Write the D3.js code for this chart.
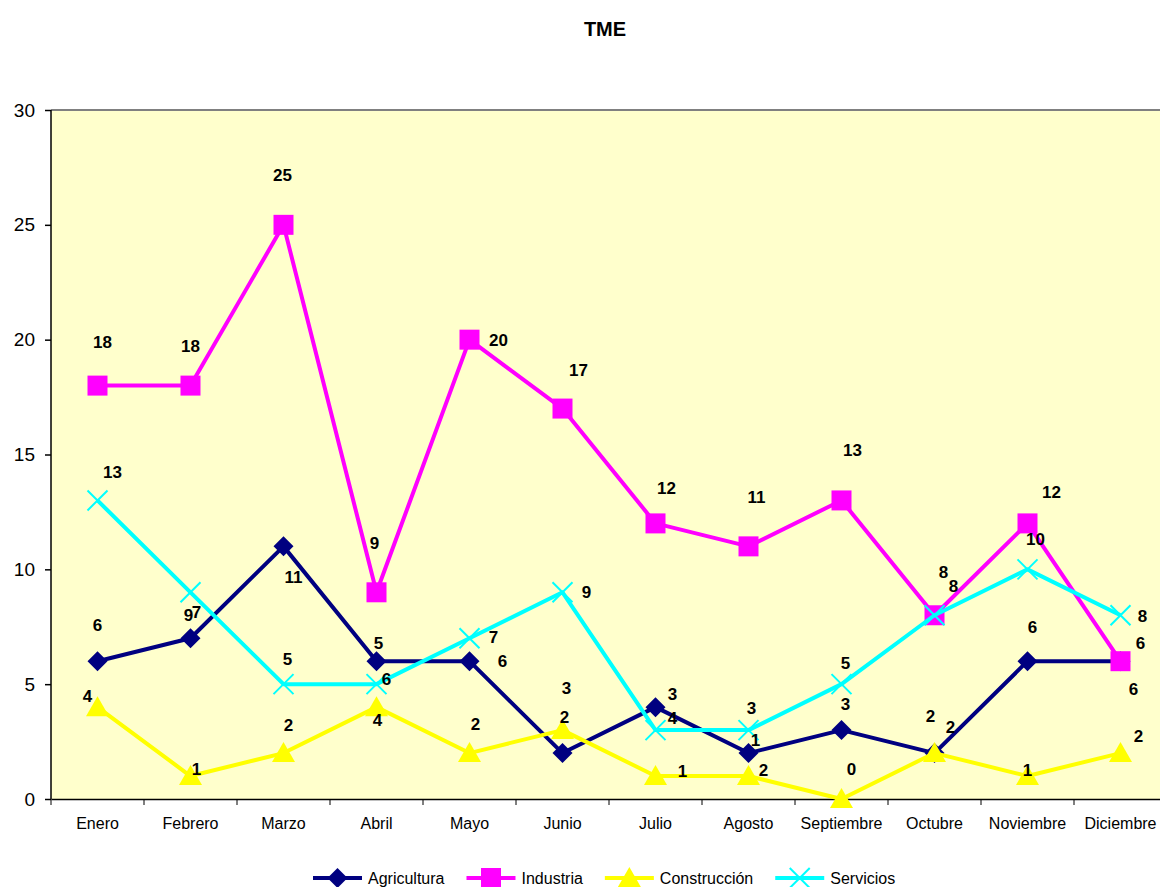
<!DOCTYPE html>
<html>
<head>
<meta charset="utf-8">
<script src="https://cdn.jsdelivr.net/npm/d3@7"></script>
<style>
  body { margin: 0; background: #fff; }
  text { font-family: "Liberation Sans", Arial, sans-serif; }
</style>
</head>
<body>
<script>
var months = ["Enero", "Febrero", "Marzo", "Abril", "Mayo", "Junio", "Julio", "Agosto", "Septiembre", "Octubre", "Noviembre", "Diciembre"];
var agricultura = [6, 7, 11, 6, 6, 2, 4, 2, 3, 2, 6, 6];
var industria = [18, 18, 25, 9, 20, 17, 12, 11, 13, 8, 12, 6];
var construccion = [4, 1, 2, 4, 2, 3, 1, 1, 0, 2, 1, 2];
var servicios = [13, 9, 5, 5, 7, 9, 3, 3, 5, 8, 10, 8];
var yTicks = [0, 5, 10, 15, 20, 25, 30];

// label nudges (px) as the labels were moved by hand in the original
var agriLabelOff = [[0,-36],[6,-26],[10,31],[10,18],[33,0],[2,-36],[17,11],[15,17],[4,-26],[-4,-37],[5,-34],[13,28]];
var indLabelOff = [[5,-43],[0,-39],[-1,-49],[-2,-49],[29,1],[16,-38],[11,-35],[8,-49],[11,-50],[9,-43],[24,-31],[20,-18]];
var consLabelOff = [[-10,-11],[6,-7],[5,-28],[1,13],[6,-29],[4,-42],[27,-5],[7,-36],[10,-30],[16,-26],[0,-6],[18,-17]];
var servLabelOff = [[15,-28],[-2,23],[4,-25],[2,-41],[24,-1],[24,0],[17,-36],[3,-22],[4,-21],[19,-29],[8,-30],[22,1]];

var series = [
  {name: "Agricultura", values: agricultura, color: "#000080", marker: "diamond", off: agriLabelOff},
  {name: "Industria", values: industria, color: "#ff00ff", marker: "square", off: indLabelOff},
  {name: "Construcción", values: construccion, color: "#ffff00", marker: "triangle", off: consLabelOff},
  {name: "Servicios", values: servicios, color: "#00ffff", marker: "cross", off: servLabelOff}
];

var W = 1160, H = 887;
var pLeft = 51, pRight = 1167, pTop = 110, pBottom = 799;

var svg = d3.select("body").append("svg").attr("width", W).attr("height", H);

svg.append("text").attr("x", 605).attr("y", 36).attr("text-anchor", "middle")
  .style("font-size", "20px").style("font-weight", "bold").text("TME");

var x = d3.scaleBand().domain(months).range([pLeft, pRight]).padding(0);
var y = d3.scaleLinear().domain([0, 30]).range([pBottom, pTop]);
function cx(i) { return x(months[i]) + x.bandwidth() / 2; }

svg.append("rect").attr("x", pLeft).attr("y", pTop).attr("width", pRight - pLeft).attr("height", pBottom - pTop)
  .attr("fill", "#ffffcc");
svg.append("line").attr("x1", pLeft).attr("x2", pRight).attr("y1", pTop).attr("y2", pTop)
  .attr("stroke", "#808080").attr("stroke-width", 2);

var yAxis = svg.append("g").attr("transform", "translate(" + pLeft + ",0)")
  .call(d3.axisLeft(y).tickValues(yTicks).tickSize(6).tickPadding(10));
yAxis.selectAll("text").style("font-size", "19px").attr("fill", "#000");
yAxis.selectAll("line, path").attr("stroke", "#000").attr("stroke-width", 1.5);
yAxis.select(".domain").attr("d", "M0," + pTop + "V" + pBottom);

var xAxis = svg.append("g").attr("transform", "translate(0," + pBottom + ")")
  .call(d3.axisBottom(x).tickSize(0).tickPadding(19));
xAxis.selectAll("text").style("font-size", "16px").attr("fill", "#000");
xAxis.select(".domain").attr("stroke", "#000").attr("stroke-width", 1.5);
xAxis.selectAll(".edge").data(months).enter().append("line").attr("class", "edge")
  .attr("x1", function(d) { return x(d); }).attr("x2", function(d) { return x(d); })
  .attr("y1", 0).attr("y2", 6).attr("stroke", "#000").attr("stroke-width", 1);

function markerPath(type) {
  if (type === "diamond") return "M0,-10L10,0L0,10L-10,0Z";
  if (type === "square") return "M-10,-10H10V10H-10Z";
  if (type === "triangle") return "M0,-11L11.5,9H-11.5Z";
  return "M-10,-10L10,10M-10,10L10,-10";
}

function drawMarker(g, s, tx, ty) {
  var p = g.append("path").attr("d", markerPath(s.marker)).attr("transform", "translate(" + tx + "," + ty + ")");
  if (s.marker === "cross") p.attr("fill", "none").attr("stroke", s.color).attr("stroke-width", 2);
  else p.attr("fill", s.color);
}

var line = d3.line().x(function(d, i) { return cx(i); }).y(function(d) { return y(d); });

series.forEach(function(s) {
  var g = svg.append("g");
  g.append("path").datum(s.values).attr("d", line).attr("fill", "none")
    .attr("stroke", s.color).attr("stroke-width", 4).attr("stroke-linejoin", "round");
  s.values.forEach(function(v, i) { drawMarker(g, s, cx(i), y(v)); });
});

series.forEach(function(s) {
  svg.append("g").selectAll("text").data(s.values).enter().append("text")
    .attr("x", function(d, i) { return cx(i) + s.off[i][0]; })
    .attr("y", function(d, i) { return y(d) + s.off[i][1]; })
    .attr("text-anchor", "middle").attr("dominant-baseline", "central")
    .style("font-size", "17px").style("font-weight", "bold")
    .text(function(d) { return d; });
});

// legend
var legend = svg.append("g").attr("transform", "translate(313,878)");
var lx = 0;
series.forEach(function(s) {
  var g = legend.append("g").attr("transform", "translate(" + lx + ",0)");
  g.append("line").attr("x1", 0).attr("x2", 49).attr("stroke", s.color).attr("stroke-width", 4);
  drawMarker(g, {marker: s.marker, color: s.color}, 24.5, 0);
  var t = g.append("text").attr("x", 55).attr("dominant-baseline", "central")
    .style("font-size", "16px").text(s.name);
  lx += 55 + t.node().getComputedTextLength() + 22;
});
</script>
</body>
</html>
